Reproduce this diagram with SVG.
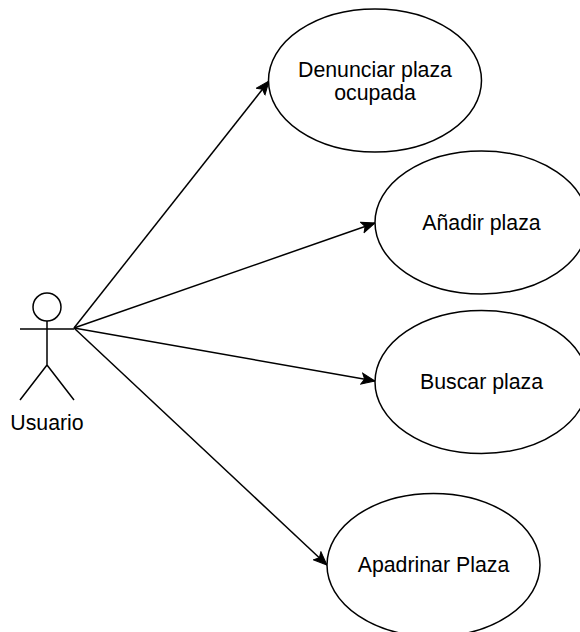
<svg xmlns="http://www.w3.org/2000/svg" width="580" height="632" viewBox="0 0 580 632">
<style>
.n{fill:#fff;stroke:#000;stroke-width:1.5}
.s{fill:none;stroke:#000;stroke-width:1.5}
.c{fill:none;stroke:#000;stroke-width:1.5;marker-end:url(#a)}
text{font-family:"Liberation Sans",Arial,sans-serif;font-size:21.3px;fill:#000;text-anchor:middle}
</style>
<defs><marker id="a" markerUnits="userSpaceOnUse" markerWidth="15" markerHeight="13" refX="14" refY="6" orient="auto" viewBox="0 0 15 12"><path d="M0.500 0.500L14 6L0.500 11.500L3.500 6Z" fill="#000" stroke="#000"/></marker></defs>
<rect width="580" height="632" fill="#fff"/>
<g id="connectors">
<path class="c" d="M74 328L269 81"/>
<path class="c" d="M74 328L375 223"/>
<path class="c" d="M74 328L375 381"/>
<path class="c" d="M74 328L327 565"/>
</g>
<g id="usuario">
<circle class="s" cx="47" cy="307" r="14"/>
<path class="s" d="M47 321V365M20 329H74M47 365L20 400M47 365L74 400"/>
<text x="47" y="430">Usuario</text>
</g>
<g id="denunciar"><ellipse class="n" cx="375" cy="80.500" rx="106.500" ry="71.500"/><text x="375" y="77">Denunciar plaza</text><text x="375" y="100">ocupada</text></g>
<g id="anadir"><ellipse class="n" cx="481.500" cy="222.500" rx="106.500" ry="71.500"/><text x="481.500" y="230">Añadir plaza</text></g>
<g id="buscar"><ellipse class="n" cx="481.500" cy="382" rx="106.500" ry="71.500"/><text x="481.500" y="389">Buscar plaza</text></g>
<g id="apadrinar"><ellipse class="n" cx="433.500" cy="565" rx="106.500" ry="71.500"/><text x="433.500" y="572">Apadrinar Plaza</text></g>
</svg>
